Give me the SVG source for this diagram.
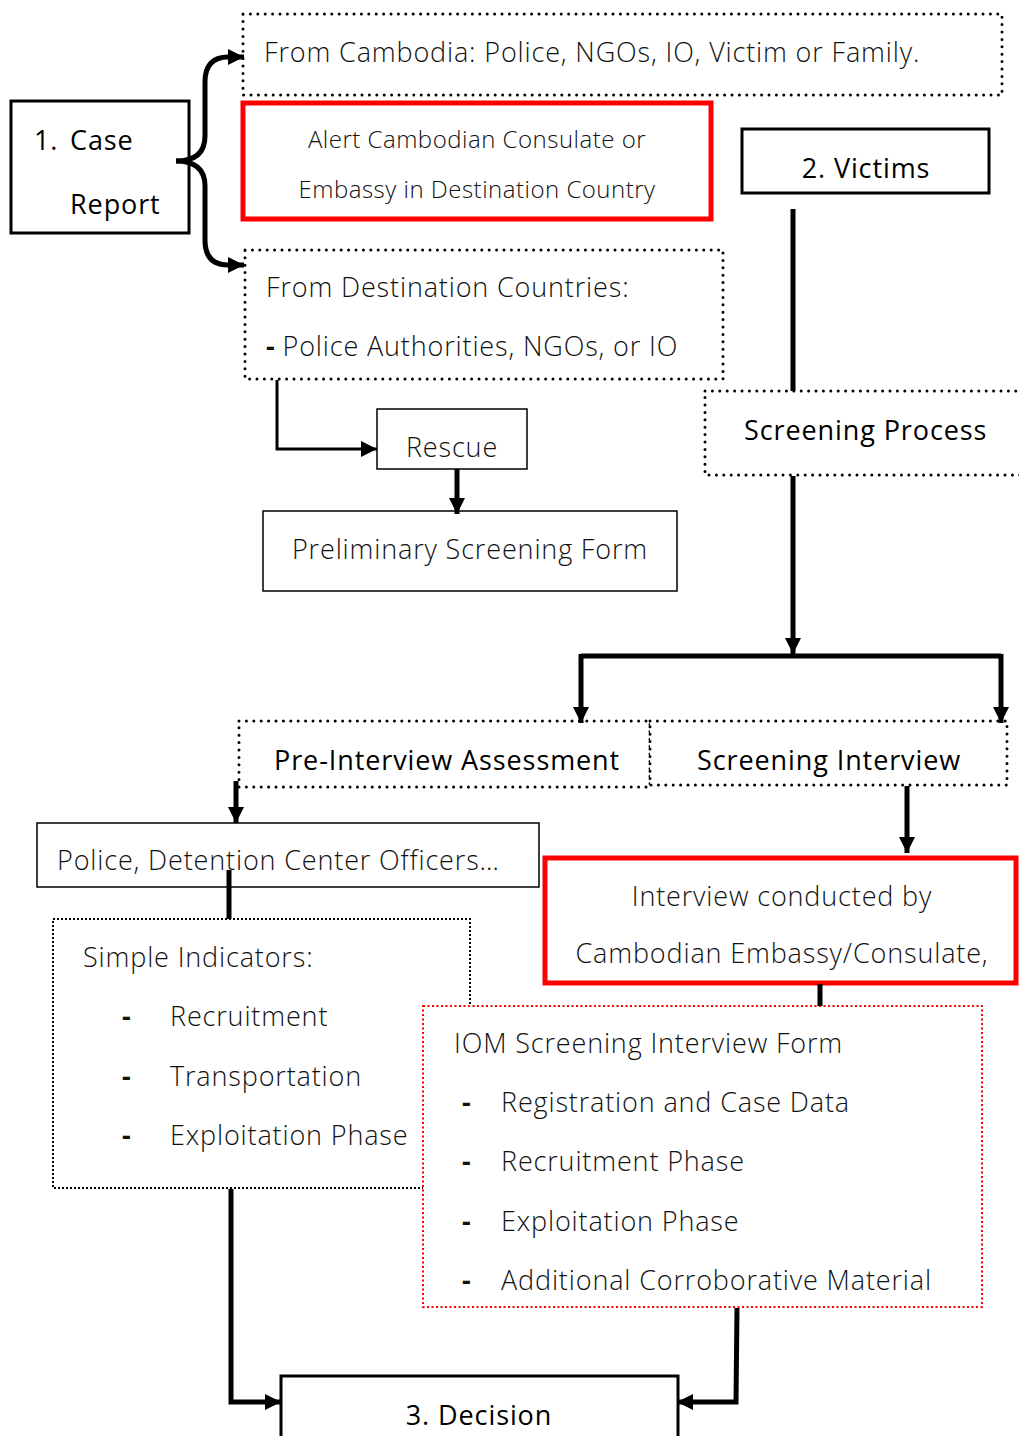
<svg xmlns="http://www.w3.org/2000/svg" width="1019" height="1436" viewBox="0 0 1019 1436">
<defs>
<marker id="ah" viewBox="0 0 10 10" refX="10" refY="5" markerWidth="16" markerHeight="16" markerUnits="userSpaceOnUse" orient="auto">
<path d="M0,0 L10,5 L0,10 z" fill="#000"/>
</marker>
</defs>
<style>
text{font-family:"Open Sans","Noto Sans","Liberation Sans",sans-serif;fill:#111;}
.lt{font-weight:300;font-size:27px;letter-spacing:0.85px;}
.bd{font-weight:500;font-size:27px;fill:#000;letter-spacing:0.9px;}
.sm{font-size:24px;letter-spacing:0.5px;}
.dash{font-weight:700;}
.solid{fill:#fff;stroke:#000;}
.dot{fill:#fff;stroke:#000;stroke-width:3;stroke-dasharray:0 7.4;stroke-linecap:round;}
.dots{fill:#fff;stroke:#000;stroke-width:2;stroke-dasharray:2 2;}
.rdot{fill:#fff;stroke:#f00;stroke-width:2;stroke-dasharray:2 2.5;}
.red{fill:#fff;stroke:#f00;stroke-width:5;}
.c{fill:none;stroke:#000;stroke-width:5;}
</style>
<rect width="1019" height="1436" fill="#fff"/>

<g id="case-report">
<rect class="solid" x="11" y="101" width="178" height="132" stroke-width="3"/>
<text class="bd" x="34" y="150">1.</text>
<text class="bd" x="70" y="150">Case</text>
<text class="bd" x="70" y="214">Report</text>
</g>

<g id="from-cambodia">
<rect class="dot" x="243" y="14" width="759" height="81"/>
<text class="lt" x="264" y="62">From Cambodia: Police, NGOs, IO, Victim or Family.</text>
</g>

<g id="alert">
<rect class="red" x="243" y="103" width="468" height="116"/>
<text class="lt sm" x="477" y="148" text-anchor="middle">Alert Cambodian Consulate or</text>
<text class="lt sm" x="477" y="198" text-anchor="middle">Embassy in Destination Country</text>
</g>

<g id="victims">
<rect class="solid" x="742" y="129" width="247" height="64" stroke-width="3"/>
<text class="bd" x="866" y="178" text-anchor="middle">2. Victims</text>
</g>

<g id="from-destination">
<rect class="dot" x="245" y="250" width="478" height="129"/>
<text class="lt" x="266" y="297">From Destination Countries:</text>
<text class="lt" x="266" y="356"><tspan class="dash">-</tspan><tspan dx="7">Police Authorities, NGOs, or IO</tspan></text>
</g>

<g id="rescue">
<rect class="solid" x="377" y="409" width="150" height="60" stroke-width="1.5"/>
<text class="lt" x="452" y="457" text-anchor="middle">Rescue</text>
</g>

<g id="preliminary">
<rect class="solid" x="263" y="511" width="414" height="80" stroke-width="1.5"/>
<text class="lt" x="470" y="559" text-anchor="middle">Preliminary Screening Form</text>
</g>

<g id="screening-process">
<rect class="dot" x="705" y="391" width="330" height="84"/>
<text class="bd" x="744" y="440">Screening Process</text>
</g>

<g id="pre-interview">
<rect class="dot" x="239" y="721" width="411" height="66"/>
<text class="bd" x="274" y="770">Pre-Interview Assessment</text>
</g>

<g id="screening-interview">
<rect class="dot" x="650" y="721" width="357" height="64"/>
<text class="bd" x="697" y="770">Screening Interview</text>
</g>

<g id="police">
<rect class="solid" x="37" y="823" width="502" height="64" stroke-width="1.5"/>
<text class="lt" x="57" y="870">Police, Detention Center Officers…</text>
</g>

<g id="simple-indicators">
<rect class="dots" x="53" y="919" width="417" height="269"/>
<text class="lt" x="83" y="967">Simple Indicators:</text>
<text class="lt dash" x="122" y="1026">-</text>
<text class="lt" x="170" y="1026">Recruitment</text>
<text class="lt dash" x="122" y="1086">-</text>
<text class="lt" x="170" y="1086">Transportation</text>
<text class="lt dash" x="122" y="1145">-</text>
<text class="lt" x="170" y="1145">Exploitation Phase</text>
</g>

<g id="interview-conducted">
<rect class="red" x="545" y="858" width="471" height="125"/>
<text class="lt" x="782" y="906" text-anchor="middle">Interview conducted by</text>
<text class="lt" x="782" y="963" text-anchor="middle">Cambodian Embassy/Consulate,</text>
</g>

<g id="iom-form">
<rect class="rdot" x="423" y="1006" width="559" height="301"/>
<text class="lt" x="454" y="1053">IOM Screening Interview Form</text>
<text class="lt dash" x="462" y="1112">-</text>
<text class="lt" x="501" y="1112">Registration and Case Data</text>
<text class="lt dash" x="462" y="1171">-</text>
<text class="lt" x="501" y="1171">Recruitment Phase</text>
<text class="lt dash" x="462" y="1231">-</text>
<text class="lt" x="501" y="1231">Exploitation Phase</text>
<text class="lt dash" x="462" y="1290">-</text>
<text class="lt" x="501" y="1290">Additional Corroborative Material</text>
</g>

<g id="decision">
<rect class="solid" x="281" y="1376" width="397" height="70" stroke-width="3"/>
<text class="bd" x="479" y="1425" text-anchor="middle">3. Decision</text>
</g>

<g id="connectors">
<path class="c" d="M176,161 Q205,161 205,136 L205,82 Q205,57 228,57 L244,57" marker-end="url(#ah)"/>
<path class="c" d="M176,161 Q205,161 205,186 L205,240 Q205,265 228,265 L244,265" marker-end="url(#ah)"/>
<path class="c" style="stroke-width:3" d="M277,380 L277,449 L377,449" marker-end="url(#ah)"/>
<path class="c" d="M457,469 L457,514" marker-end="url(#ah)"/>
<path class="c" d="M793,209 L793,391"/>
<path class="c" d="M793,476 L793,654" marker-end="url(#ah)"/>
<path class="c" d="M581,656 L1001,656"/>
<path class="c" d="M581,654 L581,723" marker-end="url(#ah)"/>
<path class="c" d="M1001,654 L1001,723" marker-end="url(#ah)"/>
<path class="c" d="M236,781 L236,823" marker-end="url(#ah)"/>
<path class="c" d="M907,786 L907,853" marker-end="url(#ah)"/>
<path class="c" d="M229,870 L229,919"/>
<path class="c" d="M820,984 L820,1006"/>
<path class="c" d="M231,1189 L231,1402 L281,1402" marker-end="url(#ah)"/>
<path class="c" d="M737,1308 L736,1402 L677,1402" marker-end="url(#ah)"/>
</g>
</svg>
